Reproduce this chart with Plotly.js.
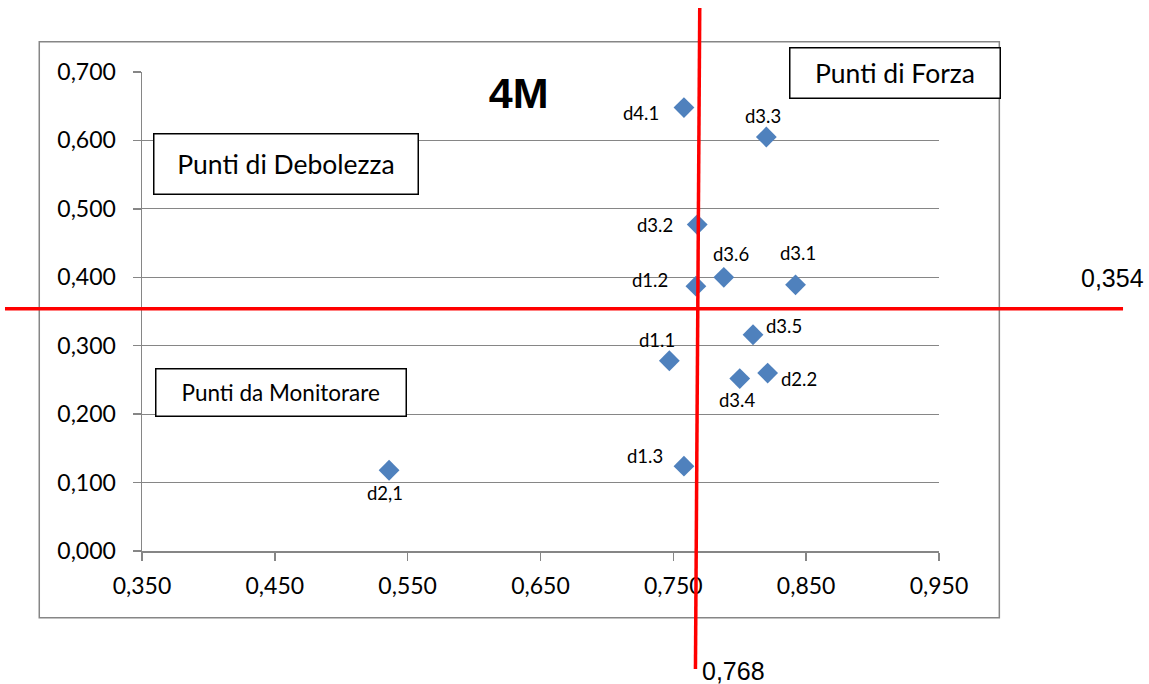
<!DOCTYPE html>
<html>
<head>
<meta charset="utf-8">
<script src="https://cdn.plot.ly/plotly-3.0.1.min.js"></script>
<style>
  html, body { margin: 0; padding: 0; background: #ffffff; }
  #chart { width: 1149px; height: 684px; }
</style>
</head>
<body>
<div id="chart"></div>
<script>
// ---- Data ----
const categories = ['d4.1', 'd3.3', 'd3.2', 'd3.6', 'd3.1', 'd1.2', 'd3.5', 'd1.1', 'd3.4', 'd2.2', 'd1.3', 'd2,1'];
const xValues = [0.758, 0.820, 0.768, 0.788, 0.842, 0.767, 0.810, 0.747, 0.800, 0.821, 0.758, 0.536];
const yValues = [0.648, 0.605, 0.477, 0.400, 0.389, 0.387, 0.316, 0.278, 0.252, 0.260, 0.124, 0.118];
const xThreshold = 0.768;
const yThreshold = 0.354;
const chartTitle = '4M';
const quadrantLabels = ['Punti di Debolezza', 'Punti di Forza', 'Punti da Monitorare'];
const xTickValues = [0.35, 0.45, 0.55, 0.65, 0.75, 0.85, 0.95];
const yTickValues = [0.0, 0.1, 0.2, 0.3, 0.4, 0.5, 0.6, 0.7];

// ---- Styling (label offsets in screen pixels: [dx, dy], dy downward) ----
const labelOffsets = [[-43, 5], [-3, -21], [-42, 0], [7, -23], [2, -32], [-46, -6],
                      [31, -9], [-12, -21], [-3, 21], [31, 6], [-39, -10], [-4, 23]];
const LABEL_FONT = 'Lato, Carlito, Calibri, sans-serif';
const fmt = v => v.toFixed(3).replace('.', ',');

const trace = {
  type: 'scatter',
  mode: 'markers',
  x: xValues,
  y: yValues,
  text: categories,
  marker: { symbol: 'diamond', size: 16, color: '#4F81BD', line: { width: 0 } },
  hoverinfo: 'text+x+y',
  showlegend: false,
  cliponaxis: false
};

const annotations = [];
categories.forEach((c, i) => {
  annotations.push({
    x: xValues[i], y: yValues[i], xref: 'x', yref: 'y',
    text: c, showarrow: false,
    xshift: labelOffsets[i][0], yshift: -labelOffsets[i][1],
    font: { family: LABEL_FONT, size: 18.5, color: '#000000' }
  });
});

// quadrant boxes
const boxes = [
  { x: 0.1809, y: 0.8069, w: 263, h: 58.6, size: 26.5 },
  { x: 0.9445, y: 0.9969, w: 209, h: 48.6, size: 26.5 },
  { x: 0.1743, y: 0.3303, w: 248.5, h: 46, size: 22.5 }
];
quadrantLabels.forEach((t, i) => {
  const b = boxes[i];
  annotations.push({
    xref: 'paper', yref: 'paper', x: b.x, y: b.y, xanchor: 'center', yanchor: 'middle',
    text: t, showarrow: false, width: b.w, height: b.h, align: 'center', valign: 'middle',
    bgcolor: '#ffffff', bordercolor: '#000000', borderwidth: 1.5, borderpad: 0,
    font: { family: LABEL_FONT, size: b.size, color: '#000000' }
  });
});

// threshold value labels
annotations.push({
  xref: 'paper', yref: 'y', x: 1.2183, y: yThreshold, yshift: 30.5,
  xanchor: 'center', yanchor: 'middle', showarrow: false,
  text: fmt(yThreshold),
  font: { family: 'Liberation Sans, Arial, sans-serif', size: 25, color: '#000000' }
});
annotations.push({
  xref: 'x', yref: 'paper', x: xThreshold, xshift: 36, y: -0.2495,
  xanchor: 'center', yanchor: 'middle', showarrow: false,
  text: fmt(xThreshold),
  font: { family: 'Liberation Sans, Arial, sans-serif', size: 25, color: '#000000' }
});

const shapes = [
  // outer chart border
  { type: 'rect', xref: 'paper', yref: 'paper', x0: -0.1289, x1: 1.0757, y0: -0.1392, y1: 1.0633,
    line: { color: '#868686', width: 1.5 }, fillcolor: 'rgba(0,0,0,0)', layer: 'below' },
  // vertical threshold line (slightly tilted)
  { type: 'line', xref: 'x', xsizemode: 'pixel', xanchor: xThreshold, x0: 2.5, x1: -1.8,
    yref: 'paper', y0: 1.1336, y1: -0.2463,
    line: { color: '#FF0000', width: 3.5 }, layer: 'above' },
  // horizontal threshold line
  { type: 'line', yref: 'y', y0: yThreshold, y1: yThreshold,
    xref: 'paper', x0: -0.1719, x1: 1.2309,
    line: { color: '#FF0000', width: 3.5 }, layer: 'above' }
];

const axisCommon = {
  showline: true, linecolor: '#868686', linewidth: 1.5,
  ticks: 'outside', ticklen: 8, tickwidth: 1.5, tickcolor: '#868686',
  tickformat: '.3f', zeroline: false,
  tickfont: { family: LABEL_FONT, size: 23, color: '#000000' },
  fixedrange: true
};

const layout = {
  width: 1149, height: 684,
  margin: { l: 142, r: 210, t: 72, b: 133, pad: 0 },
  paper_bgcolor: '#ffffff', plot_bgcolor: '#ffffff',
  separators: ',.',
  font: { family: LABEL_FONT, color: '#000000' },
  title: {
    text: '<b>' + chartTitle + '</b>',
    xref: 'container', yref: 'container',
    x: 518.7 / 1149, xanchor: 'center',
    y: 1 - 93.3 / 684, yanchor: 'middle',
    font: { family: 'Liberation Sans, Arial, sans-serif', size: 43, color: '#000000' }
  },
  xaxis: Object.assign({}, axisCommon, {
    range: [0.35, 0.95], tickmode: 'array', tickvals: xTickValues,
    showgrid: false, ticklabelstandoff: 6
  }),
  yaxis: Object.assign({}, axisCommon, {
    range: [0, 0.7], tickmode: 'array', tickvals: yTickValues,
    showgrid: true, gridcolor: '#868686', gridwidth: 1.2, ticklabelstandoff: 12
  }),
  shapes: shapes,
  annotations: annotations,
  showlegend: false
};

Plotly.newPlot('chart', [trace], layout, { displayModeBar: false, staticPlot: true });
</script>
</body>
</html>
